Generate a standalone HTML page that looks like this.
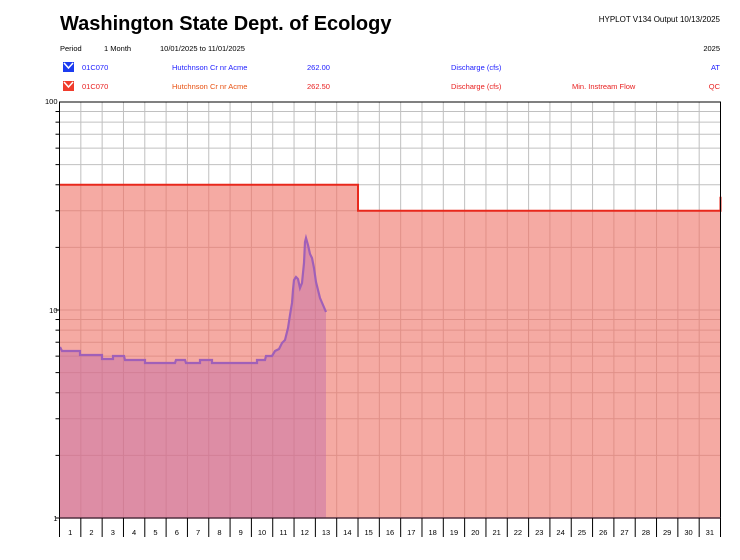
<!DOCTYPE html>
<html><head><meta charset="utf-8"><style>
body{margin:0;background:#fff;width:740px;height:555px;overflow:hidden;font-family:"Liberation Sans",Arial,sans-serif}
svg text{font-family:"Liberation Sans",Arial,sans-serif}
</style></head><body>
<svg id="s" width="740" height="555" xmlns="http://www.w3.org/2000/svg">
<text x="60" y="30" font-size="20" font-weight="bold" fill="#000">Washington State Dept. of Ecology</text>
<text x="720" y="22" font-size="8" text-anchor="end">HYPLOT V134  Output 10/13/2025</text>
<text x="60" y="51" font-size="7.5">Period</text>
<text x="104" y="51" font-size="7.5">1 Month</text>
<text x="160" y="51" font-size="7.5">10/01/2025  to  11/01/2025</text>
<text x="720" y="51" font-size="7.5" text-anchor="end">2025</text>
<rect x="63" y="62" width="11" height="10" fill="#1c3cf0"/><path d="M64,63 L68.5,68 L73,63" stroke="#fff" stroke-width="1.5" fill="none"/>
<text x="82" y="70" font-size="7.5" fill="#1c1cff">01C070</text>
<text x="172" y="70" font-size="7.5" fill="#1c1cff">Hutchnson Cr nr Acme</text>
<text x="307" y="70" font-size="7.5" fill="#1c1cff">262.00</text>
<text x="451" y="70" font-size="7.5" fill="#1c1cff">Discharge (cfs)</text>
<text x="720" y="70" font-size="7.5" fill="#1c1cff" text-anchor="end">AT</text>
<rect x="63" y="81" width="11" height="10" fill="#f03c2c"/><path d="M64,82 L68.5,87 L73,82" stroke="#fff" stroke-width="1.5" fill="none"/>
<text x="82" y="89" font-size="7.5" fill="#e82020">01C070</text>
<text x="172" y="89" font-size="7.5" fill="#e85010">Hutchnson Cr nr Acme</text>
<text x="307" y="89" font-size="7.5" fill="#e82020">262.50</text>
<text x="451" y="89" font-size="7.5" fill="#e82020">Discharge (cfs)</text>
<text x="572" y="89" font-size="7.5" fill="#e82020">Min. Instream Flow</text>
<text x="720" y="89" font-size="7.5" fill="#e82020" text-anchor="end">QC</text>
<g id="g"></g>
</svg>
<script>
(function(){
var g=document.getElementById('g'),h='';
var L=59.5,R=720.5,T=102,B=518,D=208,W=(R-L)/31;
function y(v){return B-D*Math.log10(v);}
for(var k=1;k<31;k++){var x=L+W*k;h+='<line x1="'+x+'" y1="'+T+'" x2="'+x+'" y2="'+B+'" stroke="#c0c0c0" stroke-width="1"/>';}
for(var d=1;d<=10;d*=10)for(var m=2;m<=9;m++){var yy=y(m*d);h+='<line x1="'+L+'" y1="'+yy+'" x2="'+R+'" y2="'+yy+'" stroke="#c0c0c0"/>';}
var x14=L+W*14,y40=y(40),y30=y(30);
h+='<path d="M'+L+','+B+' L'+L+','+y40+' L'+x14+','+y40+' L'+x14+','+y30+' L'+R+','+y30+' L'+R+','+B+' Z" fill="#f5aaa3"/>';
h+='<g stroke="#e09088" stroke-width="1">';
for(var k=1;k<31;k++){var x=L+W*k;var tp=(k<=14?y40:y30);h+='<line x1="'+x+'" y1="'+tp+'" x2="'+x+'" y2="'+B+'"/>';}
for(var d=1;d<=10;d*=10)for(var m=2;m<=9;m++){var v=m*d,yy=y(v);if(yy>y30)h+='<line x1="'+L+'" y1="'+yy+'" x2="'+R+'" y2="'+yy+'"/>';else if(yy>y40)h+='<line x1="'+L+'" y1="'+yy+'" x2="'+x14+'" y2="'+yy+'"/>';}
var y10=y(10);h+='<line x1="'+L+'" y1="'+y10+'" x2="'+R+'" y2="'+y10+'"/>';
h+='</g>';
var p=[[60,347],[62,351],[80,351],[80,355],[102,355],[102,359],[113,359],[113,356],[124,356],[125,360],[145,360],[145,363],[175,363],[176,360],[185,360],[186,363],[200,363],[200,360],[212,360],[212,363],[257,363],[257,360],[265,360],[266,356],[272,356],[275,351],[279,349],[282,343],[285,340],[288,328],[290,315],[292,303],[293,290],[294,280],[296,277],[298,279],[300,288],[302,283],[304,263],[305,242],[306,238],[308,245],[310,254],[312,258],[314,268],[316,282],[318,290],[320,298],[323,305],[326,312]];
var s='M'+p.map(function(q){return q.join(',')}).join(' L');
h+='<path d="'+s+' L326,'+B+' L60,'+B+' Z" fill="#c06aa8" fill-opacity="0.45"/>';
h+='<path d="'+s+'" fill="none" stroke="#a060b8" stroke-width="2.2"/>';
h+='<path d="M'+L+','+y40+' L'+x14+','+y40+' L'+x14+','+y30+' L'+R+','+y30+' L'+R+','+(y30-14)+'" fill="none" stroke="#e8281c" stroke-width="2"/>';
h+='<rect x="'+L+'" y="'+T+'" width="'+(R-L)+'" height="'+(B-T)+'" fill="none" stroke="#000" stroke-width="1"/>';
h+='<line x1="'+L+'" y1="'+B+'" x2="'+R+'" y2="'+B+'" stroke="#503040" stroke-width="1.5"/>';
for(var d=1;d<=10;d*=10)for(var m=1;m<=9;m++){var yy=y(m*d);h+='<line x1="'+(L-4)+'" y1="'+yy+'" x2="'+L+'" y2="'+yy+'" stroke="#000"/>';}
h+='<text x="'+(L-2)+'" y="'+(T+2)+'" font-size="7.5" text-anchor="end">100</text>';
h+='<text x="'+(L-2)+'" y="'+(y10+3)+'" font-size="7.5" text-anchor="end">10</text>';
h+='<text x="'+(L-2)+'" y="'+(B+3)+'" font-size="7.5" text-anchor="end">1</text>';
for(var k=0;k<=31;k++){var x=L+W*k;h+='<line x1="'+x+'" y1="'+B+'" x2="'+x+'" y2="537" stroke="#000"/>';}
for(var k=1;k<=31;k++){h+='<text x="'+(L+W*(k-0.5))+'" y="535" font-size="7.5" text-anchor="middle">'+k+'</text>';}
g.innerHTML=h;
})();
</script>
</body></html>
